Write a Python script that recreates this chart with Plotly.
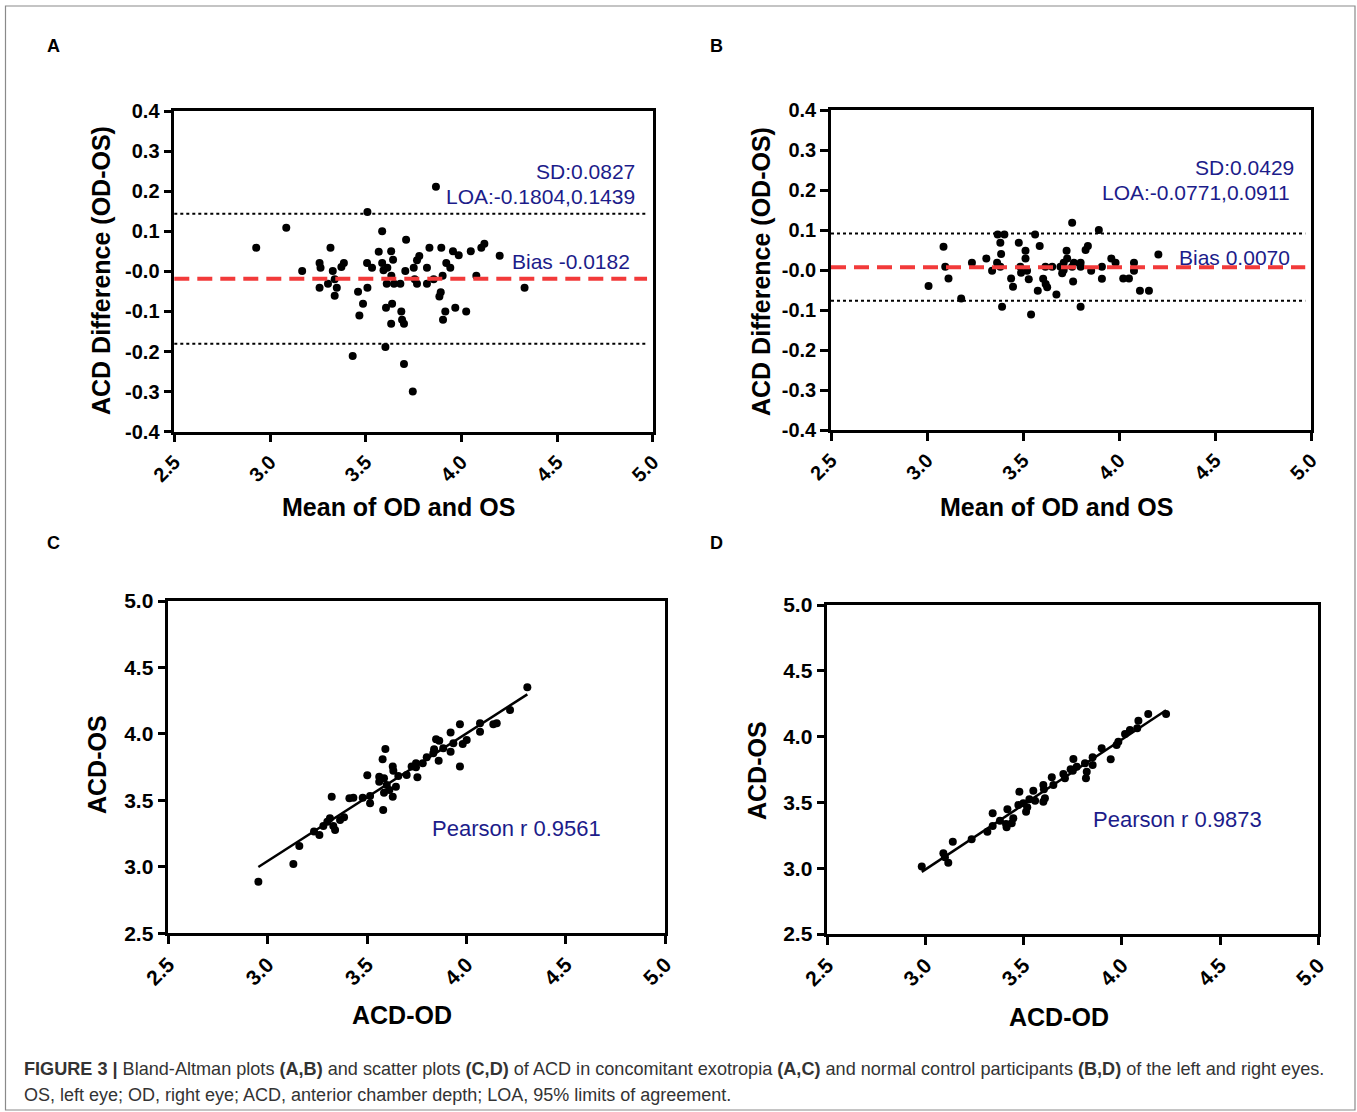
import numpy as np
import plotly.graph_objects as go

# ---------------- data ----------------
a_mean = [3.867, 3.509, 3.085, 2.928, 3.316, 3.586, 3.711, 3.568, 3.633, 3.643, 3.586, 3.593, 3.613, 3.707,
          3.634, 3.610, 3.648, 3.681, 3.751, 3.756, 3.768, 3.768, 3.780, 3.833, 3.895, 3.820, 3.820, 3.855,
          3.902, 3.921, 3.942, 3.956, 3.986, 4.049, 4.104, 4.120, 4.200, 4.078, 4.330, 3.892, 3.885, 3.968,
          4.025, 3.916, 3.904, 3.259, 3.264, 3.168, 3.328, 3.338, 3.303, 3.259, 3.349, 3.338, 3.373, 3.386,
          3.507, 3.533, 3.509, 3.460, 3.486, 3.467, 3.606, 3.638, 3.686, 3.690, 3.700, 3.633, 3.432, 3.603,
          3.700, 3.746]
a_diff = [0.211, 0.148, 0.109, 0.059, 0.059, 0.100, 0.079, 0.049, 0.050, 0.029, 0.021, 0.003, 0.009, 0.001,
          -0.011, -0.031, -0.031, -0.031, 0.009, -0.020, -0.031, 0.028, 0.038, 0.059, 0.059, 0.009, -0.031, -0.020,
          -0.011, 0.021, 0.009, 0.050, 0.040, 0.050, 0.059, 0.069, 0.039, -0.011, -0.041, -0.052, -0.063, -0.091,
          -0.100, -0.100, -0.121, 0.021, 0.009, 0.001, 0.001, -0.020, -0.031, -0.041, -0.041, -0.061, 0.011, 0.021,
          0.021, 0.009, -0.041, -0.051, -0.081, -0.110, -0.091, -0.081, -0.100, -0.121, -0.131, -0.131, -0.211, -0.189,
          -0.231, -0.300]
a_bias, a_loa_low, a_loa_high, a_sd = -0.0182, -0.1804, 0.1439, 0.0827

b_mean = [3.756, 3.895, 3.368, 3.403, 3.563, 3.086, 3.382, 3.478, 3.587, 3.513, 3.386, 3.513, 3.309, 3.234,
          3.365, 3.727, 3.826, 3.838, 3.960, 3.982, 4.078, 4.205, 3.095, 3.339, 3.382, 3.486, 3.521, 3.617,
          3.652, 3.695, 3.712, 3.730, 3.765, 3.800, 3.800, 3.704, 3.855, 3.911, 4.078, 3.911, 4.022, 4.052,
          4.109, 4.156, 3.112, 3.008, 3.178, 3.438, 3.448, 3.490, 3.530, 3.605, 3.618, 3.626, 3.577, 3.674,
          3.761, 3.391, 3.800, 3.542, 3.712, 3.756]
b_diff = [0.118, 0.100, 0.089, 0.089, 0.089, 0.058, 0.068, 0.068, 0.060, 0.048, 0.040, 0.029, 0.029, 0.018,
          0.018, 0.048, 0.050, 0.060, 0.029, 0.018, 0.018, 0.039, 0.008, -0.002, 0.008, 0.008, -0.002, 0.008,
          0.008, 0.008, 0.018, 0.029, 0.018, 0.018, 0.008, -0.008, -0.002, 0.008, -0.002, -0.022, -0.021, -0.021,
          -0.052, -0.052, -0.021, -0.040, -0.071, -0.021, -0.042, -0.007, -0.023, -0.022, -0.035, -0.043, -0.052, -0.061,
          -0.029, -0.092, -0.092, -0.111, 0.000, 0.008]
b_bias, b_loa_low, b_loa_high, b_sd = 0.0070, -0.0771, 0.0911, 0.0429

c_od = [4.306, 4.219, 4.152, 4.135, 4.068, 4.068, 3.967, 3.920, 4.001, 3.981, 3.920, 3.967, 3.847, 3.863,
        3.837, 3.860, 3.883, 3.800, 3.780, 3.746, 3.746, 3.753, 3.699, 3.657, 3.592, 3.578, 3.629, 3.632,
        3.501, 3.561, 3.585, 3.561, 3.599, 3.645, 3.612, 3.585, 3.629, 3.581, 3.515, 3.515, 3.478, 3.431,
        3.411, 3.322, 3.384, 3.364, 3.313, 3.300, 3.330, 3.339, 3.280, 3.260, 3.233, 3.159, 3.129, 2.953,
        3.724, 3.833, 3.934]
c_os = [4.351, 4.180, 4.080, 4.073, 4.080, 4.017, 4.073, 4.010, 3.955, 3.924, 3.866, 3.754, 3.960, 3.949,
        3.884, 3.799, 3.892, 3.824, 3.779, 3.779, 3.749, 3.674, 3.691, 3.684, 3.887, 3.809, 3.754, 3.723,
        3.689, 3.678, 3.666, 3.641, 3.616, 3.603, 3.578, 3.558, 3.528, 3.428, 3.533, 3.478, 3.520, 3.520,
        3.516, 3.528, 3.373, 3.353, 3.365, 3.340, 3.307, 3.277, 3.307, 3.240, 3.265, 3.157, 3.021, 2.888,
        3.754, 3.854, 3.930]
c_r = 0.9561

d_od = [4.225, 4.134, 4.084, 4.078, 4.041, 4.016, 3.982, 3.973, 3.897, 3.943, 3.851, 3.851, 3.812, 3.817,
        3.753, 3.770, 3.739, 3.702, 3.710, 3.643, 3.651, 3.600, 3.603, 3.549, 3.608, 3.600, 3.478, 3.529,
        3.498, 3.518, 3.512, 3.473, 3.417, 3.342, 3.379, 3.410, 3.413, 3.439, 3.342, 3.315, 3.235, 3.139,
        3.091, 3.099, 3.116, 2.981, 3.821, 3.558, 3.447, 3.750]
d_os = [4.172, 4.172, 4.121, 4.063, 4.050, 4.020, 3.961, 3.936, 3.911, 3.827, 3.843, 3.784, 3.797, 3.683,
        3.830, 3.771, 3.751, 3.716, 3.683, 3.691, 3.632, 3.632, 3.600, 3.589, 3.531, 3.505, 3.581, 3.524,
        3.493, 3.463, 3.429, 3.480, 3.448, 3.417, 3.361, 3.336, 3.311, 3.341, 3.321, 3.277, 3.220, 3.201,
        3.113, 3.083, 3.042, 3.012, 3.733, 3.513, 3.379, 3.740]
d_r = 0.9873

x_ticks = [2.5, 3.0, 3.5, 4.0, 4.5, 5.0]
x_ticktext = ["2.5", "3.0", "3.5", "4.0", "4.5", "5.0"]
ba_ticks = [-0.4, -0.3, -0.2, -0.1, 0.0, 0.1, 0.2, 0.3, 0.4]
ba_ticktext = ["-0.4", "-0.3", "-0.2", "-0.1", "-0.0", "0.1", "0.2", "0.3", "0.4"]
sc_ticks = [2.5, 3.0, 3.5, 4.0, 4.5, 5.0]
sc_ticktext = ["2.5", "3.0", "3.5", "4.0", "4.5", "5.0"]

# ---------------- layout helpers ----------------
W, H = 1357, 1112
FONT = "Arial, Liberation Sans, sans-serif"
NAVY = "#1c1c8a"


def fx(p):
    return p / W


def fy(p):
    return 1 - p / H


fig = go.Figure()

marker = dict(color="black", size=8)

# panels: (xaxis name, yaxis name, x px domain, y px domain(top,bottom))
panels = [
    ("x", "y", (174.3, 652.8), (111, 431.7)),
    ("x2", "y2", (831.0, 1311.0), (110, 430.0)),
    ("x3", "y3", (168.3, 665.3), (601, 933.3)),
    ("x4", "y4", (827.3, 1318.3), (605, 934.0)),
]

# traces
fig.add_trace(go.Scatter(x=a_mean, y=a_diff, mode="markers", marker=marker, xaxis="x", yaxis="y"))
fig.add_trace(go.Scatter(x=b_mean, y=b_diff, mode="markers", marker=marker, xaxis="x2", yaxis="y2"))

for od, os_, xa, ya in [(c_od, c_os, "x3", "y3"), (d_od, d_os, "x4", "y4")]:
    slope, icpt = np.polyfit(od, os_, 1)
    lx = np.array([min(od), max(od)])
    fig.add_trace(go.Scatter(x=lx, y=slope * lx + icpt, mode="lines",
                             line=dict(color="black", width=2.5), xaxis=xa, yaxis=ya))
    fig.add_trace(go.Scatter(x=od, y=os_, mode="markers", marker=marker, xaxis=xa, yaxis=ya))

axis_common = dict(showline=True, linecolor="black", linewidth=2.5, mirror=True,
                   ticks="outside", ticklen=8, tickwidth=2.5, tickcolor="black",
                   showgrid=False, zeroline=False, automargin=False,
                   tickfont=dict(family=FONT, size=20, color="black", weight="bold"))

layout = dict(width=W, height=H, margin=dict(l=0, r=0, t=0, b=0, autoexpand=False),
              paper_bgcolor="white", plot_bgcolor="white", showlegend=False)

for i, (xa, ya, xd, yd) in enumerate(panels):
    xkey = "xaxis" if xa == "x" else "xaxis" + xa[1:]
    ykey = "yaxis" if ya == "y" else "yaxis" + ya[1:]
    xr = dict(axis_common)
    xr.update(domain=[fx(xd[0]), fx(xd[1])], range=[2.5, 5.0], anchor=ya,
              tickvals=x_ticks, ticktext=x_ticktext, tickangle=-45)
    yr = dict(axis_common)
    if i < 2:
        yr.update(domain=[fy(yd[1]), fy(yd[0])], range=[-0.4, 0.4], anchor=xa,
                  tickvals=ba_ticks, ticktext=ba_ticktext)
    else:
        yr.update(domain=[fy(yd[1]), fy(yd[0])], range=[2.5, 5.0], anchor=xa,
                  tickvals=sc_ticks, ticktext=sc_ticktext,
                  tickfont=dict(family=FONT, size=21, color="black", weight="bold"))
        xr.update(tickfont=dict(family=FONT, size=21, color="black", weight="bold"))
    layout[xkey] = xr
    layout[ykey] = yr

fig.update_layout(**layout)

# reference lines for Bland-Altman panels
shapes = []
for xa, ya, bias, lo, hi in [("x", "y", a_bias, a_loa_low, a_loa_high),
                             ("x2", "y2", b_bias, b_loa_low, b_loa_high)]:
    for val in (lo, hi):
        shapes.append(dict(type="line", xref=xa + " domain", yref=ya, x0=0, x1=0.988, y0=val, y1=val,
                           line=dict(color="black", width=2, dash="3px,3px")))
    shapes.append(dict(type="line", xref=xa + " domain", yref=ya, x0=0, x1=0.988, y0=bias, y1=bias,
                       line=dict(color="#f23a3a", width=4, dash="15px,8px")))
# outer frame
shapes.append(dict(type="rect", xref="paper", yref="paper", x0=fx(5.5), x1=fx(1355), y0=fy(1110), y1=fy(6),
                   line=dict(color="#8a8a8a", width=1.2)))
fig.update_layout(shapes=shapes)

ann = []


def text(x, y, s, size, color="black", bold=False, xanchor="center", yanchor="middle", angle=0, family=FONT):
    ann.append(dict(x=fx(x), y=fy(y), xref="paper", yref="paper", text=s, showarrow=False,
                    xanchor=xanchor, yanchor=yanchor, textangle=angle,
                    font=dict(family=family, size=size, color=color, weight="bold" if bold else "normal")))


# panel letters
for L, x, y in [("A", 54, 46), ("B", 716, 46), ("C", 54, 543), ("D", 716, 543)]:
    text(x, y, L, 18, bold=True)

# axis titles
text(101, 271, "ACD Difference (OD-OS)", 25, bold=True, angle=-90)
text(761, 271, "ACD Difference (OD-OS)", 25, bold=True, angle=-90)
text(398, 507, "Mean of OD and OS", 25, bold=True)
text(1056, 507, "Mean of OD and OS", 25, bold=True)
text(97, 765, "ACD-OS", 25, bold=True, angle=-90)
text(757, 770, "ACD-OS", 25, bold=True, angle=-90)
text(402, 1015, "ACD-OD", 25, bold=True)
text(1059, 1017, "ACD-OD", 25, bold=True)

# statistics text
text(637, 171, f"SD:{a_sd:.4f}", 21, NAVY, xanchor="right")
text(637, 196, f"LOA:{a_loa_low:.4f},{a_loa_high:.4f}", 21, NAVY, xanchor="right")
text(632, 261, f"Bias {a_bias:.4f}", 21, NAVY, xanchor="right")
text(1296, 167, f"SD:{b_sd:.4f}", 21, NAVY, xanchor="right")
text(1292, 192, f"LOA:{b_loa_low:.4f},{b_loa_high:.4f}", 21, NAVY, xanchor="right")
text(1292, 257, f"Bias {b_bias:.4f}", 21, NAVY, xanchor="right")
text(516, 828, f"Pearson r {c_r:.4f}", 22, NAVY)
text(1177, 819, f"Pearson r {d_r:.4f}", 22, NAVY)

# caption
cap1 = ("<b>FIGURE 3 |</b> Bland-Altman plots <b>(A,B)</b> and scatter plots <b>(C,D)</b> of ACD in "
        "concomitant exotropia <b>(A,C)</b> and normal control participants <b>(B,D)</b> of the left and right eyes.")
cap2 = "OS, left eye; OD, right eye; ACD, anterior chamber depth; LOA, 95% limits of agreement."
text(22, 1069, cap1, 18.1, "#333333", xanchor="left")
text(22, 1095, cap2, 18.0, "#333333", xanchor="left")

fig.update_layout(annotations=ann)

fig.write_html("out.html", config={"displayModeBar": False},
               post_script="document.body.style.margin='0px';document.body.style.overflow='hidden';")
